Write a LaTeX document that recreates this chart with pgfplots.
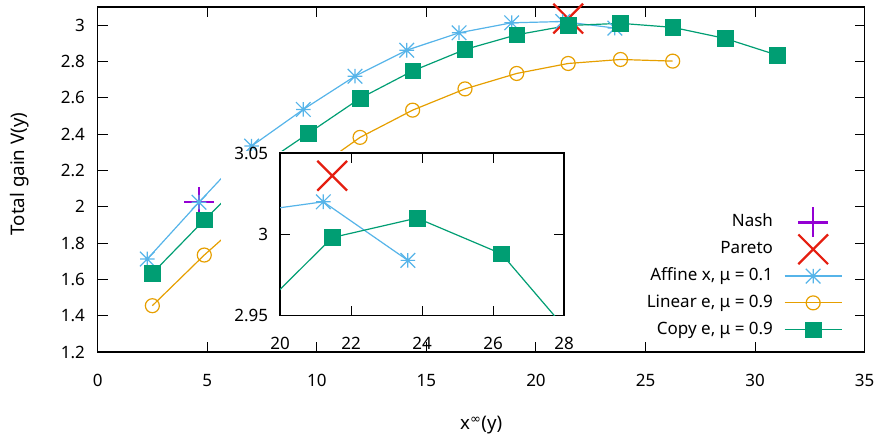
\documentclass[border=0pt]{standalone}
\usepackage{fontspec}
\setmainfont{Noto Sans}
\newfontfamily\dejavu{DejaVu Sans}
\usepackage{pgfplots}
\usepackage{pgfplotstable}
\pgfplotsset{compat=1.18}
\usetikzlibrary{calc}

\definecolor{cNash}{HTML}{9400D3}
\definecolor{cPareto}{HTML}{E51E10}
\definecolor{cAff}{HTML}{56B4E9}
\definecolor{cLin}{HTML}{E69F00}
\definecolor{cCopy}{HTML}{009E73}

\pgfdeclareplotmark{gpstar}{%
  \pgfpathmoveto{\pgfqpoint{-\pgfplotmarksize}{0pt}}\pgfpathlineto{\pgfqpoint{\pgfplotmarksize}{0pt}}%
  \pgfpathmoveto{\pgfqpoint{0pt}{-\pgfplotmarksize}}\pgfpathlineto{\pgfqpoint{0pt}{\pgfplotmarksize}}%
  \pgfpathmoveto{\pgfqpoint{-\pgfplotmarksize}{-\pgfplotmarksize}}\pgfpathlineto{\pgfqpoint{\pgfplotmarksize}{\pgfplotmarksize}}%
  \pgfpathmoveto{\pgfqpoint{-\pgfplotmarksize}{\pgfplotmarksize}}\pgfpathlineto{\pgfqpoint{\pgfplotmarksize}{-\pgfplotmarksize}}%
  \pgfusepathqstroke}

\pgfplotstableread{
x y
2.26 1.712
4.62 2.025
7.02 2.334
9.38 2.536
11.74 2.719
14.10 2.862
16.49 2.958
18.89 3.013
21.22 3.020
23.60 2.984
}\affine

\pgfplotstableread{
x y
2.49 1.455
4.86 1.734
7.24 1.99
9.61 2.18
11.97 2.382
14.37 2.532
16.76 2.649
19.12 2.734
21.47 2.789
23.86 2.811
26.24 2.802
}\linear

\pgfplotstableread{
x y
2.49 1.633
4.86 1.927
7.24 2.21
9.61 2.404
11.97 2.597
14.37 2.748
16.76 2.866
19.12 2.947
21.47 2.998
23.86 3.010
26.24 2.988
28.63 2.927
31.01 2.835
}\copye

\pgfplotsset{
  gpbase/.style={
    scale only axis,
    tick align=inside,
    tick pos=both,
    major tick length=10pt,
    every tick/.style={black, line width=1pt},
    axis line style={line width=1.2pt},
    /pgf/number format/assume math mode=true,
  },
  lineAff/.style={color=cAff, line width=1.2pt, mark=gpstar, mark size=7.3pt, mark options={solid, line width=1.2pt}},
  lineLin/.style={color=cLin, line width=1.2pt, mark=o, mark size=7pt, mark options={solid, line width=1.2pt}},
  lineCopy/.style={color=cCopy, line width=1.2pt, mark=square*, mark size=7.8pt, mark options={solid, fill=cCopy, line width=0.6pt}},
  markNash/.style={only marks, color=cNash, mark=+, mark size=15pt, mark options={line width=2.2pt}},
  markPareto/.style={only marks, color=cPareto, mark=x, mark size=21pt, mark options={line width=2.2pt}},
}

\begin{document}
\fontsize{17pt}{20pt}\selectfont
\begin{tikzpicture}
\begin{axis}[
  gpbase,
  name=main,
  width=766.8pt, height=345pt,
  xmin=0, xmax=35, ymin=1.2, ymax=3.1,
  xtick={0,5,10,15,20,25,30,35},
  ytick={1.2,1.4,1.6,1.8,2,2.2,2.4,2.6,2.8,3},
  xticklabel style={yshift=-16.3pt},
  yticklabel style={xshift=-7pt},
  xlabel={x\textsuperscript{\dejavu ∞}(y)},
  xlabel style={at={(axis description cs:0.5,-0.226)}, anchor=base, font=\fontsize{18.7pt}{22pt}\selectfont},
  ylabel={Total gain V(y)},
  ylabel style={at={(axis description cs:-0.1015,0.516)}, anchor=center, font=\fontsize{18.7pt}{22pt}\selectfont},
  legend plot pos=right,
  legend cell align=right,
  legend image code/.code={%
    \path[draw=none, fill=none] (0pt,-6pt) rectangle (57pt,6pt);
    \draw[overlay, mark repeat=2, mark phase=2, #1] plot coordinates {(0pt,0pt) (28.5pt,0pt) (57pt,0pt)};},
  legend style={
    at={(axis description cs:0.9701,0.3986)}, anchor=north east,
    draw=none, fill=none, inner sep=0pt, outer sep=0pt,
    nodes={inner sep=0pt, text height=12.5pt, text depth=3.5pt},
    column sep=11.7pt, row sep=10.8pt,
  },
]
\addplot[markNash] coordinates {(4.62,2.024)};
\addlegendentry{Nash}
\addplot[markPareto] coordinates {(21.47,3.036)};
\addlegendentry{Pareto}
\addplot[lineAff] table {\affine};
\addlegendentry{Affine x, μ = 0.1}
\addplot[lineLin] table {\linear};
\addlegendentry{Linear e, μ = 0.9}
\addplot[lineCopy] table {\copye};
\addlegendentry{Copy e, μ = 0.9}
\coordinate (rectA) at (axis cs:5.62,1.2605);
\coordinate (rectB) at (axis cs:21.92,2.307);
\end{axis}

\fill[white] (rectA) rectangle (rectB);

\begin{axis}[
  gpbase,
  at={($(main.south west)+(182.2pt,36.3pt)$)}, anchor=south west,
  width=284pt, height=162.7pt,
  xmin=20, xmax=28, ymin=2.95, ymax=3.05,
  xtick={20,22,24,26,28},
  ytick={2.95,3,3.05},
  yticklabel style={xshift=-6pt, /pgf/number format/precision=2},
  xticklabel style={yshift=-15.3pt},
  clip marker paths=true,
]
\addplot[markPareto] coordinates {(21.47,3.036)};
\addplot[lineAff] table {\affine};
\addplot[lineCopy] table {\copye};
\end{axis}

\pgfresetboundingbox
\path ($(main.south west)+(-97.8pt,-82pt)$) rectangle ($(main.north east)+(15.4pt,7pt)$);
\end{tikzpicture}
\end{document}
